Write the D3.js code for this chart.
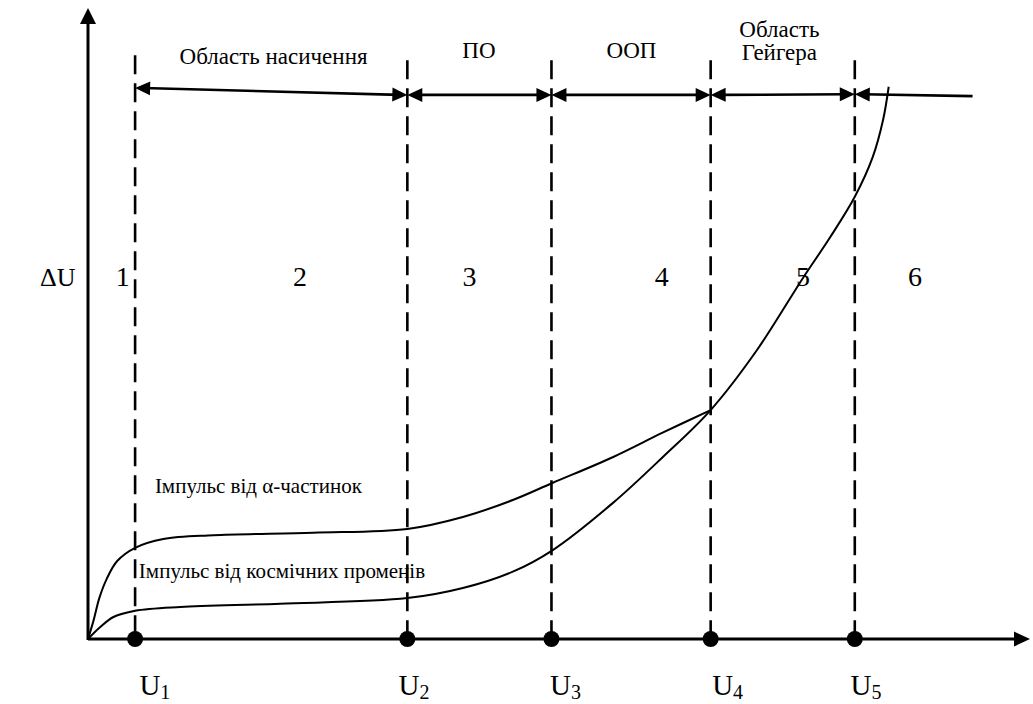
<!DOCTYPE html>
<html>
<head>
<meta charset="utf-8">
<script src="https://cdn.jsdelivr.net/npm/d3@7"></script>
</head>
<body style="margin:0">
<svg id="chart" width="1033" height="704"></svg>
<script>
// ---------------- data (abstract units: x 0..100, y 0..100) ----------------
const boundaryNames = ["1", "2", "3", "4", "5"];            // subscripts of U
const boundaryX     = [5.0, 33.9, 49.2, 66.1, 81.4];         // U1..U5
const boundaryLabelX = [7.1, 34.6, 50.7, 67.9, 82.6];        // centres of the U labels
const dashTopY      = [92.8, 92.0, 92.0, 92.0, 92.0];        // top of dashed lines
const arrowLevelY   = [87.6, 86.5, 86.5, 86.5, 86.6];        // arrow line level at each U
const arrowTailX    = 93.9;
const arrowTailY    = 86.3;

const regionNumbers = ["1", "2", "3", "4", "5", "6"];
const regionX       = [3.7, 22.5, 40.5, 60.9, 75.9, 87.8];
const regionY       = 56.1;

const zoneLabels    = ["Область насичення", "ПО", "ООП", "Область", "Гейгера"];
const zoneLabelX    = [19.7, 41.5, 57.7, 73.4, 73.4];
const zoneLabelY    = [91.4, 92.4, 92.4, 95.7, 92.05];

// Pulse from alpha particles
const alphaX = [0, 0.6, 1.2, 2.0, 3.1, 5.0, 8.0, 13.3, 23.9, 33.9, 39.8, 45.1, 49.3, 55.7, 61.0, 66.1];
const alphaY = [0, 3.0, 6.5, 9.6, 12.4, 14.5, 15.9, 16.5, 16.9, 17.5, 19.4, 22.1, 24.8, 28.9, 32.8, 36.4];
// Pulse from cosmic rays
const cosmicX = [0, 1.3, 2.7, 5.0, 9.8, 20.4, 33.9, 39.8, 45.1, 49.3, 55.7, 61.0, 66.1, 71.0, 75.9, 78.8, 81.4, 83.3, 84.4, 85.0];
const cosmicY = [0, 1.9, 3.5, 4.5, 5.1, 5.6, 6.5, 8.1, 10.7, 14.1, 21.6, 28.9, 36.4, 45.9, 57.4, 63.9, 70.3, 76.6, 82.5, 87.8];

const curveLabels = ["Імпульс від α-частинок", "Імпульс від космічних променів"];
const curveLabelX = [7.1, 5.4];
const curveLabelY = [23.2, 9.7];

const axisLabel = "ΔU";
const axisLabelX = -5.1;
const axisLabelY = 56.1;

// ---------------- scales ----------------
const svg = d3.select("#chart");
const x = d3.scaleLinear().domain([0, 100]).range([88, 1030]);
const y = d3.scaleLinear().domain([0, 100]).range([639, 10]);

function serif(sel, size) {
  return sel.style("font-family", d => `"Liberation Serif", monospace`).style("font-size", size + "px");
}

// ---------------- texts under the graphics ----------------
serif(svg.selectAll("text.curveLabel").data(curveLabels).join("text")
  .attr("class", "curveLabel")
  .attr("x", (d, i) => x(curveLabelX[i]))
  .attr("y", (d, i) => y(curveLabelY[i])), 21)
  .text(d => d);

// ---------------- dashed boundaries ----------------
svg.selectAll("line.bound").data(boundaryX).join("line")
  .attr("class", "bound")
  .attr("x1", d => x(d)).attr("x2", d => x(d))
  .attr("y1", (d, i) => y(dashTopY[i])).attr("y2", y(0))
  .attr("stroke", "#000").attr("stroke-width", 2.6)
  .attr("stroke-dasharray", "19,9");

// ---------------- curves ----------------
const line = d3.line().x(d => x(d[0])).y(d => y(d[1])).curve(d3.curveCatmullRom.alpha(0.5));
svg.append("path").datum(alphaX.map((v, i) => [v, alphaY[i]]))
  .attr("d", line).attr("fill", "none").attr("stroke", "#000").attr("stroke-width", 2);
svg.append("path").datum(cosmicX.map((v, i) => [v, cosmicY[i]]))
  .attr("d", line).attr("fill", "none").attr("stroke", "#000").attr("stroke-width", 2);

// ---------------- axes ----------------
svg.append("line")
  .attr("x1", x(0)).attr("x2", x(100) - 12)
  .attr("y1", y(0)).attr("y2", y(0))
  .attr("stroke", "#000").attr("stroke-width", 3);
svg.append("path")
  .attr("d", `M${x(100)},${y(0)} L${x(100) - 16},${y(0) - 7.5} L${x(100) - 16},${y(0) + 7.5} Z`)
  .attr("fill", "#000");
svg.append("line")
  .attr("x1", x(0)).attr("x2", x(0))
  .attr("y1", y(0) + 1).attr("y2", y(100) + 12)
  .attr("stroke", "#000").attr("stroke-width", 3);
svg.append("path")
  .attr("d", `M${x(0)},${y(100) - 2} L${x(0) - 8},${y(100) + 14} L${x(0) + 8},${y(100) + 14} Z`)
  .attr("fill", "#000");

// dots on x axis
svg.selectAll("circle.dot").data(boundaryX).join("circle")
  .attr("class", "dot")
  .attr("cx", d => x(d)).attr("cy", y(0)).attr("r", 8)
  .attr("fill", "#000");

// ---------------- zone arrows ----------------
function arrowHead(tipX, tipY, dirX, dirY) {
  const len = Math.hypot(dirX, dirY); const ux = dirX / len, uy = dirY / len;
  const L = 15, W = 7;
  const bx = tipX - ux * L, by = tipY - uy * L;
  return `M${tipX},${tipY} L${bx - uy * W},${by + ux * W} L${bx + uy * W},${by - ux * W} Z`;
}
const segs = [];
for (let i = 0; i < boundaryX.length - 1; i++) {
  segs.push([[boundaryX[i], arrowLevelY[i]], [boundaryX[i + 1], arrowLevelY[i + 1]], true]);
}
segs.push([[boundaryX[boundaryX.length - 1], arrowLevelY[arrowLevelY.length - 1]], [arrowTailX, arrowTailY], false]);

segs.forEach(s => {
  const x1 = x(s[0][0]), y1 = y(s[0][1]), x2 = x(s[1][0]), y2 = y(s[1][1]);
  svg.append("line").attr("x1", x1 + 8).attr("y1", y1).attr("x2", s[2] ? x2 - 8 : x2).attr("y2", y2)
    .attr("stroke", "#000").attr("stroke-width", 2.6);
  svg.append("path").attr("d", arrowHead(x1, y1, x1 - x2, y1 - y2)).attr("fill", "#000");
  if (s[2]) svg.append("path").attr("d", arrowHead(x2, y2, x2 - x1, y2 - y1)).attr("fill", "#000");
});

// ---------------- labels ----------------
serif(svg.selectAll("text.zone").data(zoneLabels).join("text")
  .attr("class", "zone")
  .attr("x", (d, i) => x(zoneLabelX[i]))
  .attr("y", (d, i) => y(zoneLabelY[i]))
  .attr("text-anchor", "middle"), 23)
  .text(d => d);

serif(svg.selectAll("text.region").data(regionNumbers).join("text")
  .attr("class", "region")
  .attr("x", (d, i) => x(regionX[i]))
  .attr("y", y(regionY))
  .attr("text-anchor", "middle"), 28)
  .text(d => d);

serif(svg.append("text").datum(axisLabel)
  .attr("x", x(axisLabelX)).attr("y", y(axisLabelY)), 26)
  .text(d => d);

const ul = serif(svg.selectAll("text.ulab").data(boundaryNames).join("text")
  .attr("class", "ulab")
  .attr("x", (d, i) => x(boundaryLabelX[i]))
  .attr("y", 695)
  .attr("text-anchor", "middle"), 29);
ul.append("tspan").text("U");
ul.append("tspan").style("font-size", "20px").attr("dy", 4).text(d => d);
</script>
</body>
</html>
